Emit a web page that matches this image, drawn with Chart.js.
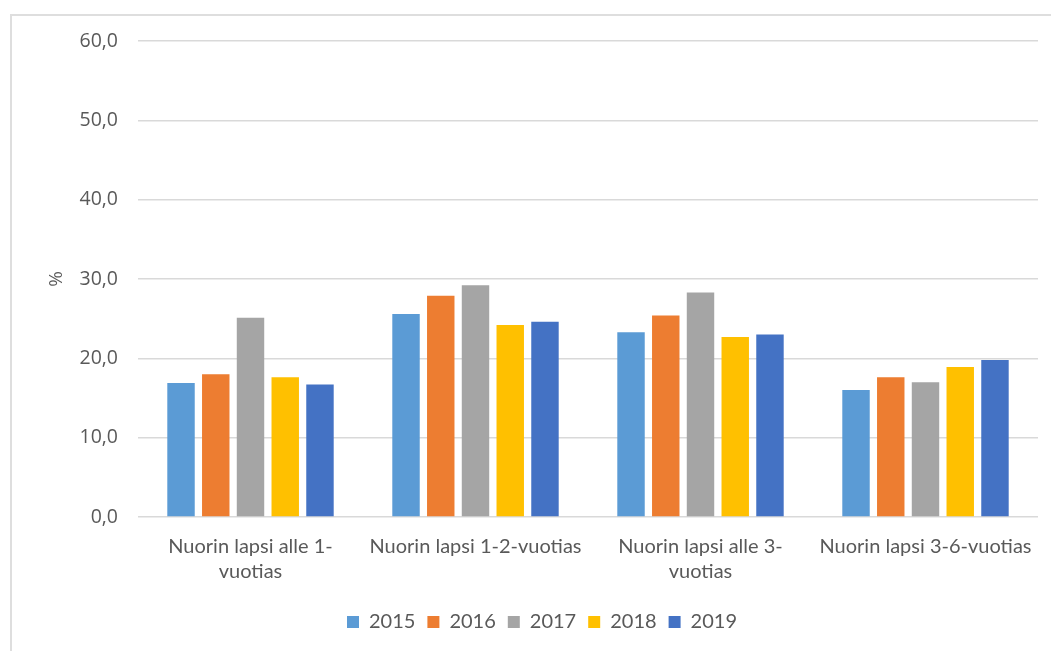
<!DOCTYPE html>
<html>
<head>
<meta charset="utf-8">
<script src="https://cdn.jsdelivr.net/npm/chart.js@4/dist/chart.umd.min.js"></script>
<style>
  html, body { margin: 0; padding: 0; background: #fff; overflow: hidden; }
  #wrap { position: relative; width: 1051px; height: 651px; }
  #frame { position: absolute; left: 10px; top: 14px; width: 1060px; height: 660px; border-left: 2px solid #dedede; border-top: 2px solid #dedede; box-sizing: border-box; }
  canvas { position: absolute; left: 0; top: 0; }
</style>
</head>
<body>
<div id="wrap">
  <div id="frame"></div>
  <canvas id="c" width="1051" height="651"></canvas>
</div>
<script>
const categories = [
  ["Nuorin lapsi alle 1-", "vuotias"],
  "Nuorin lapsi 1-2-vuotias",
  ["Nuorin lapsi alle 3-", "vuotias"],
  "Nuorin lapsi 3-6-vuotias"
];
const seriesNames = ["2015", "2016", "2017", "2018", "2019"];
const values2015 = [16.9, 25.6, 23.3, 16.0];
const values2016 = [18.0, 27.9, 25.4, 17.6];
const values2017 = [25.1, 29.2, 28.3, 17.0];
const values2018 = [17.6, 24.2, 22.7, 18.9];
const values2019 = [16.7, 24.6, 23.0, 19.8];
const yTickLabels = ["0,0", "10,0", "20,0", "30,0", "40,0", "50,0", "60,0"];
const colors = ["#5B9BD5", "#ED7D31", "#A5A5A5", "#FFC000", "#4472C4"];

const allValues = [values2015, values2016, values2017, values2018, values2019];
const textColor = "#595959";
const gridColor = "#d9d9d9";

new Chart(document.getElementById("c"), {
  type: "bar",
  data: {
    labels: categories,
    datasets: seriesNames.map((name, i) => ({
      label: name,
      data: allValues[i],
      backgroundColor: colors[i],
      borderWidth: 0,
      categoryPercentage: 0.772,
      barPercentage: 0.79
    }))
  },
  options: {
    responsive: false,
    animation: false,
    devicePixelRatio: 1,
    layout: { padding: { top: 41, left: 46, right: 13, bottom: 9 } },
    plugins: {
      tooltip: { enabled: false },
      legend: {
        position: "bottom",
        labels: {
          color: textColor,
          font: { family: "Lato", size: 20 },
          boxWidth: 12,
          boxHeight: 12,
          padding: 12
        }
      }
    },
    scales: {
      x: {
        grid: { display: false, drawTicks: false },
        border: { display: false },
        ticks: {
          color: textColor,
          font: { family: "Lato", size: 20, lineHeight: 1.25 },
          padding: 17,
          maxRotation: 0,
          autoSkip: false
        },
        afterFit: (s) => { s.height = 83; }
      },
      y: {
        min: 0,
        max: 60,
        grid: { color: gridColor, lineWidth: 1.6, drawTicks: false },
        border: { display: false },
        ticks: {
          stepSize: 10,
          color: textColor,
          font: { family: "Open Sans", size: 19.5 },
          padding: 20,
          callback: (v) => yTickLabels[Math.round(v / 10)]
        },
        title: {
          display: true,
          text: "%",
          color: textColor,
          font: { family: "Open Sans", size: 19 },
          padding: { top: -1, bottom: 0 }
        },
        afterFit: (s) => { s.width = 92; }
      }
    }
  }
});
</script>
</body>
</html>
